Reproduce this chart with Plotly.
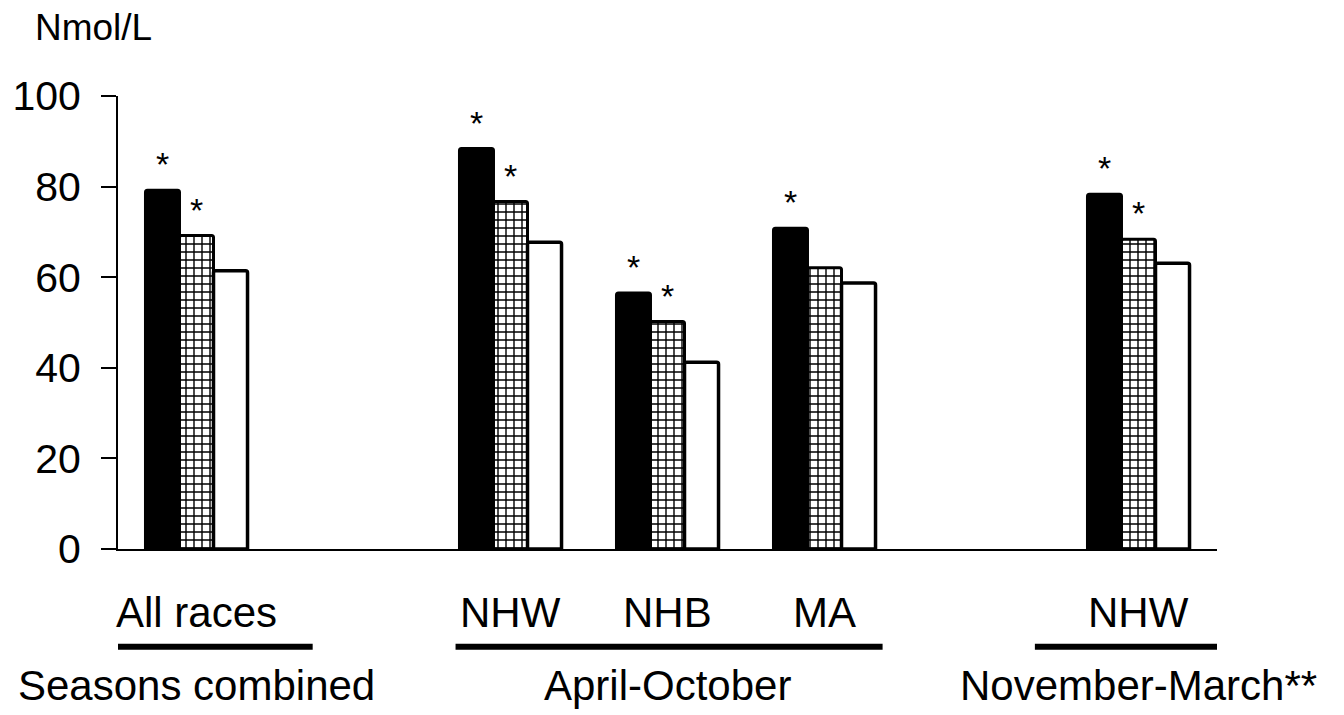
import plotly.graph_objects as go

# ---- data ----
positions = [0, 2, 3, 4, 6]
group_labels = ["All races", "NHW", "NHB", "MA", "NHW"]
black_vals = [79.2, 88.4, 56.5, 70.8, 78.3]
brick_vals = [69.2, 76.7, 50.2, 62.1, 68.4]
white_vals = [61.4, 67.7, 41.2, 58.7, 63.1]
black_star = [True, True, True, True, True]
brick_star = [True, True, True, False, True]
season_labels = ["Seasons combined", "April-October", "November-March**"]
season_centers = [0, 3, 6]
season_spans = [(-0.54, 0.74), (1.65, 4.37), (5.34, 6.63)]
y_ticks = [0, 20, 40, 60, 80, 100]

FONT = "Liberation Sans, Arial, sans-serif"
fig = go.Figure()

fig.add_trace(go.Bar(x=positions, y=black_vals, marker=dict(color="black",
                     line=dict(color="black", width=3), cornerradius=2)))
fig.add_trace(go.Bar(x=positions, y=brick_vals, marker=dict(color="white",
                     line=dict(color="black", width=3), cornerradius=2,
                     pattern=dict(shape="+", fgcolor="black", bgcolor="white",
                                  size=8, solidity=0.32, fillmode="replace"))))
fig.add_trace(go.Bar(x=positions, y=white_vals, marker=dict(color="white",
                     line=dict(color="black", width=3.5), cornerradius=2)))

bw = 0.65 / 3
ann = []
for p, v, s in zip(positions, black_vals, black_star):
    if s:
        ann.append(dict(x=p - bw, y=v, xref="x", yref="y", text="*", showarrow=False,
                        yanchor="bottom", yshift=5, font=dict(size=34, family=FONT, color="black")))
for p, v, s in zip(positions, brick_vals, brick_star):
    if s:
        ann.append(dict(x=p, y=v, xref="x", yref="y", text="*", showarrow=False,
                        yanchor="bottom", yshift=5, font=dict(size=34, family=FONT, color="black")))
for p, g in zip(positions, group_labels):
    ann.append(dict(x=p, y=-0.14, xref="x", yref="paper", text=g, showarrow=False,
                    yanchor="middle", font=dict(size=42, family=FONT, color="black")))
for c, t in zip(season_centers, season_labels):
    ann.append(dict(x=c, y=-0.302, xref="x", yref="paper", text=t, showarrow=False,
                    yanchor="middle", font=dict(size=42, family=FONT, color="black")))
ann.append(dict(x=-0.022, y=1.151, xref="paper", yref="paper", text="Nmol/L", showarrow=False,
                xanchor="center", yanchor="middle", font=dict(size=37, family=FONT, color="black")))

shapes = []
for a, b in season_spans:
    shapes.append(dict(type="line", xref="x", yref="paper", x0=a, x1=b, y0=-0.2156, y1=-0.2156,
                       line=dict(color="black", width=6)))

fig.update_layout(
    width=1344, height=715,
    margin=dict(l=110, r=135, t=88, b=174),
    paper_bgcolor="white", plot_bgcolor="white",
    barmode="group", bargap=0.35, bargroupgap=0,
    showlegend=False,
    annotations=ann, shapes=shapes,
    font=dict(family=FONT, color="black"),
)
fig.update_xaxes(range=[-0.5, 6.5], showline=True, linecolor="black", linewidth=2,
                 showticklabels=False, ticks="", showgrid=False, zeroline=False, automargin=False)
fig.update_yaxes(range=[0, 100], tickvals=y_ticks, ticks="outside", ticklen=15, tickwidth=2,
                 tickcolor="black", showline=True, linecolor="black", linewidth=2,
                 showgrid=False, zeroline=False, ticklabelstandoff=12, automargin=False,
                 tickfont=dict(size=41, family=FONT, color="black"))

fig.write_html("out.html")
